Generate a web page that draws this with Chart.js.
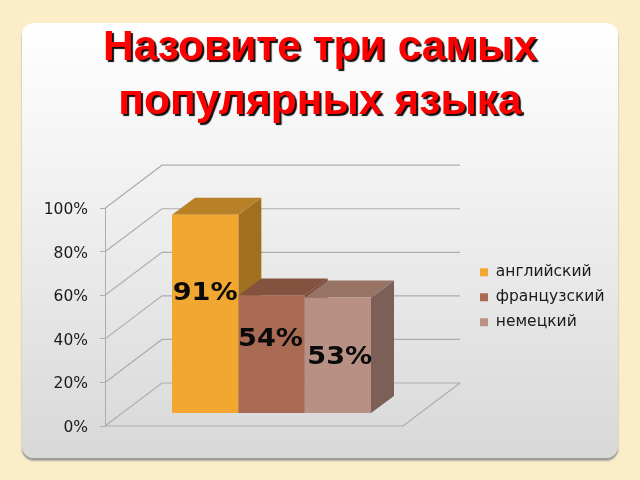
<!DOCTYPE html>
<html lang="ru">
<head>
<meta charset="utf-8">
<title>Назовите три самых популярных языка</title>
<script src="https://cdn.jsdelivr.net/npm/chart.js@4"></script>
<style>
html,body{margin:0;padding:0;width:640px;height:480px;overflow:hidden;background:#fcedc9}
#card{position:absolute;left:22px;top:23px;width:596px;height:435px;border-radius:12px;
background:linear-gradient(to bottom,#ffffff 0%,#f2f2f2 35%,#d8d8d8 100%);
box-shadow:0 2px 1px #9c9c9c,0 3px 2px #b5b09f}
#c{position:absolute;left:0;top:0}
</style>
</head>
<body>
<div id="card"></div>
<canvas id="c" width="640" height="480"></canvas>
<script>
const titleLines = ['Назовите три самых', 'популярных языка'];
const category = ['Языки'];
const seriesNames = ['английский', 'французский', 'немецкий'];
const seriesValues = [91, 54, 53];
const frontColors = ['#f2a731', '#a96b53', '#b89184'];
const topColors = ['#b98127', '#85523f', '#967365'];
const sideColors = ['#a0701f', '#74473a', '#7c5f57'];
const axisTicks = [0, 20, 40, 60, 80, 100];

const FONT = '"DejaVu Sans", Verdana, sans-serif';
const WALL = {dx: 57, dy: -43, floorWidth: 298, color: '#adadad'};
const BAR_DEPTH = {dx: 23, dy: -17};
const LABEL_SHIFT = [{x: 0, y: -20}, {x: -1, y: -14.5}, {x: 2, y: 2}];
const LABEL_STRETCH = 1.086;
const LEGEND_POS = {left: 470.5, top: 255, width: 160, height: 90};

const scene = {
  id: 'scene',
  afterInit(chart) {
    const t = chart.titleBlock, draw = t.draw;
    t.draw = function () {
      const ctx = this.ctx;
      ctx.save();
      ctx.shadowColor = 'rgba(0,0,0,0.95)';
      ctx.shadowOffsetX = 2;
      ctx.shadowOffsetY = 2;
      ctx.shadowBlur = 1;
      draw.apply(this, arguments);
      ctx.restore();
    };
  },
  afterLayout(chart) {
    const l = chart.legend;
    l.left = LEGEND_POS.left; l.right = l.left + LEGEND_POS.width;
    l.top = LEGEND_POS.top; l.bottom = l.top + LEGEND_POS.height;
    l.width = LEGEND_POS.width; l.height = LEGEND_POS.height;
    const t = chart.titleBlock;
    t.left = 0; t.right = chart.width; t.width = chart.width;
  },
  beforeDatasetsDraw(chart) {
    const {ctx, scales: {y}, chartArea} = chart;
    const x0 = chartArea.left, fx = x0 + WALL.floorWidth;
    const y0 = y.getPixelForValue(0);
    ctx.save();
    ctx.strokeStyle = WALL.color;
    ctx.lineWidth = 1.2;
    ctx.beginPath();
    axisTicks.forEach(v => {
      const py = y.getPixelForValue(v);
      ctx.moveTo(x0, py);
      ctx.lineTo(x0 + WALL.dx, py + WALL.dy);
      ctx.lineTo(fx + WALL.dx, py + WALL.dy);
    });
    ctx.moveTo(x0, y0);
    ctx.lineTo(fx, y0);
    ctx.lineTo(fx + WALL.dx, y0 + WALL.dy);
    ctx.stroke();

    chart.data.datasets.forEach((ds, i) => {
      const b = chart.getDatasetMeta(i).data[0];
      const l = b.x - b.width / 2, r = b.x + b.width / 2;
      const {dx, dy} = BAR_DEPTH;
      ctx.fillStyle = sideColors[i];
      ctx.beginPath();
      ctx.moveTo(r, b.y); ctx.lineTo(r + dx, b.y + dy);
      ctx.lineTo(r + dx, b.base + dy); ctx.lineTo(r, b.base);
      ctx.closePath(); ctx.fill();
      ctx.fillStyle = topColors[i];
      ctx.beginPath();
      ctx.moveTo(l, b.y); ctx.lineTo(l + dx, b.y + dy);
      ctx.lineTo(r + dx, b.y + dy); ctx.lineTo(r, b.y);
      ctx.closePath(); ctx.fill();
    });
    ctx.restore();
  },
  afterDatasetsDraw(chart) {
    const {ctx} = chart;
    chart.data.datasets.forEach((ds, i) => {
      const b = chart.getDatasetMeta(i).data[0];
      ctx.save();
      ctx.font = 'bold 25px ' + FONT;
      ctx.fillStyle = '#0a0a0a';
      ctx.textAlign = 'center';
      ctx.textBaseline = 'middle';
      ctx.translate(b.x + LABEL_SHIFT[i].x, (b.y + b.base) / 2 + LABEL_SHIFT[i].y);
      ctx.scale(LABEL_STRETCH, 1);
      ctx.fillText(ds.data[0] + '%', 0, 0);
      ctx.restore();
    });
  }
};

new Chart(document.getElementById('c'), {
  type: 'bar',
  data: {
    labels: category,
    datasets: seriesNames.map((n, i) => ({
      label: n,
      data: [seriesValues[i]],
      backgroundColor: frontColors[i],
      borderWidth: 0,
      xAxisID: 'x',
      yAxisID: 'yBars',
      categoryPercentage: 0.5976,
      barPercentage: 1
    }))
  },
  options: {
    responsive: false,
    animation: false,
    devicePixelRatio: 1,
    layout: {padding: {left: 0, top: 0, right: 202, bottom: 54}},
    plugins: {
      title: {
        display: true,
        text: titleLines,
        color: '#ff0000',
        font: {family: '"Liberation Sans", Arial, sans-serif', size: 42.6, weight: 'bold', lineHeight: 1.25},
        padding: {top: 22, bottom: 79.7}
      },
      legend: {
        position: 'chartArea',
        align: 'start',
        labels: {
          boxWidth: 8, boxHeight: 8, padding: 9.5,
          color: '#1a1a1a',
          font: {family: FONT, size: 15.5}
        }
      },
      tooltip: {enabled: false}
    },
    scales: {
      x: {display: false, grid: {display: false}},
      y: {
        position: 'left',
        min: 0, max: 100,
        afterFit(s) { s.width = 105; },
        afterBuildTicks(s) { s.ticks = axisTicks.map(v => ({value: v})); },
        border: {display: true, color: WALL.color},
        grid: {drawOnChartArea: false, tickLength: 5, color: WALL.color},
        ticks: {
          color: '#1a1a1a',
          padding: 12,
          labelOffset: 2,
          font: {family: FONT, size: 15.5},
          callback: v => v + '%'
        }
      },
      yBars: {
        display: false,
        min: -5.96, max: 94.04,
        grid: {display: false}
      }
    }
  },
  plugins: [scene]
});
</script>
</body>
</html>
